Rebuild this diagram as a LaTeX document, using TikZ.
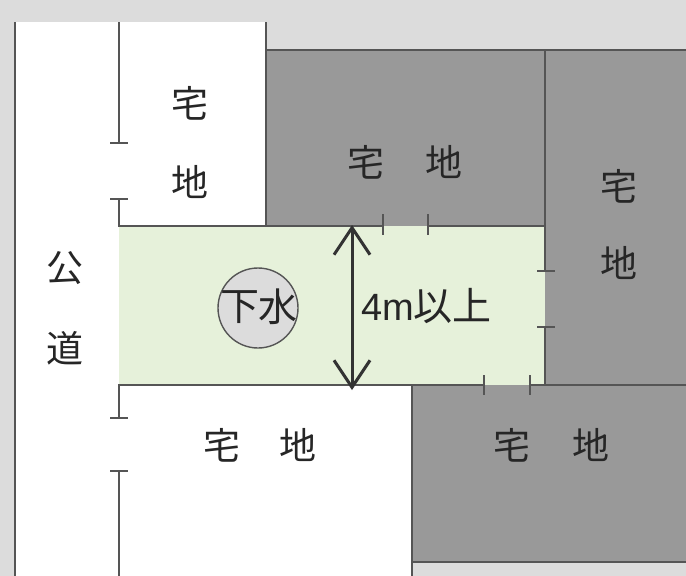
\documentclass[tikz,border=0pt]{standalone}
\usepackage{fontspec}
\usetikzlibrary{arrows.meta}
\newfontfamily\jpfont{Noto Sans CJK JP}
\newfontfamily\latfont{Liberation Sans}
\definecolor{bgc}{HTML}{DCDCDC}
\definecolor{lotc}{HTML}{999999}
\definecolor{greenc}{HTML}{E6F1DA}
\definecolor{linec}{HTML}{555555}
\tikzset{
  x=1pt,y=-1pt,
  bound/.style={draw=linec,line width=1.6pt},
  kanji/.style={inner sep=0pt,font=\jpfont\fontsize{37}{37}\selectfont,text=black!85},
  bigkanji/.style={inner sep=0pt,font=\jpfont\fontsize{39}{39}\selectfont,text=black!85},
  dim/.style={draw=black!80,line width=3pt,{Straight Barb[length=27pt,width=36pt,line width=3pt]}-{Straight Barb[length=27pt,width=36pt,line width=3pt]}},
}
\begin{document}
\begin{tikzpicture}
\useasboundingbox (0,0) rectangle (686,576);
\fill[bgc] (0,0) rectangle (686,576);
\fill[white] (15,22) rectangle (266,226);
\fill[white] (15,226) rectangle (119,576);
\fill[white] (119,385) rectangle (412,576);
\fill[lotc] (266,50) rectangle (686,226);
\fill[lotc] (545,226) rectangle (686,385);
\fill[lotc] (412,385) rectangle (686,562);
\fill[greenc] (119,226) rectangle (545,385);
% boundaries
\draw[bound] (15,22) -- (15,576);
\draw[bound] (119,22) -- (119,143);
\draw[bound] (110,143) -- (128,143);
\draw[bound] (110,199) -- (128,199);
\draw[bound] (119,199) -- (119,226) -- (383,226);
\draw[bound] (266,22) -- (266,226);
\draw[bound] (266,50) -- (686,50);
\draw[bound] (383,214) -- (383,235);
\draw[bound] (428,214) -- (428,235);
\draw[bound] (428,226) -- (545,226);
\draw[bound] (545,50) -- (545,271);
\draw[bound] (537,271) -- (555,271);
\draw[bound] (537,327) -- (555,327);
\draw[bound] (545,327) -- (545,385);
\draw[bound] (119,418) -- (119,385) -- (484,385);
\draw[bound] (110,418) -- (128,418);
\draw[bound] (110,471) -- (128,471);
\draw[bound] (119,471) -- (119,576);
\draw[bound] (484,375) -- (484,395);
\draw[bound] (530,375) -- (530,395);
\draw[bound] (530,385) -- (686,385);
\draw[bound] (412,385) -- (412,576);
\draw[bound] (412,562) -- (686,562);
% sewer
\node[circle,draw=linec,line width=1.4pt,fill=bgc,minimum size=80pt,inner sep=0pt] (sewer) at (258,308) {};
\node[bigkanji] (ge) at (240,307) {下};
\node[bigkanji] (mizu) at (278,307) {水};
% dimension
\coordinate (dimtop) at (352,225);
\coordinate (dimbot) at (352,390);
\draw[dim] (dimtop) -- (dimbot);
\node[inner sep=0pt,anchor=west,text=black!85] (width) at (361,306) {\latfont\fontsize{38}{38}\selectfont 4m\jpfont\fontsize{39}{39}\selectfont 以上};
% labels
\node[kanji] (a1) at (190,103) {宅};
\node[kanji] (a2) at (190,182) {地};
\node[kanji] (b1) at (366,162) {宅};
\node[kanji] (b2) at (444,162) {地};
\node[kanji] (c1) at (619,186) {宅};
\node[kanji] (c2) at (619,263) {地};
\node[kanji] (r1) at (65,268) {公};
\node[kanji] (r2) at (65,348) {道};
\node[kanji] (d1) at (222,445) {宅};
\node[kanji] (d2) at (298,445) {地};
\node[kanji] (e1) at (512,445) {宅};
\node[kanji] (e2) at (591,445) {地};
\end{tikzpicture}
\end{document}
